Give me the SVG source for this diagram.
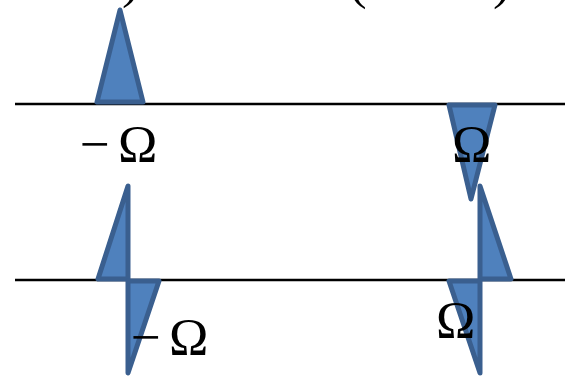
<svg xmlns="http://www.w3.org/2000/svg" width="565" height="377" viewBox="0 0 565 377">
<style>
.ax{stroke:#000;stroke-width:2.5;fill:none}
.tri{fill:#4F81BD;stroke:#3A5F8F;stroke-width:5;stroke-linejoin:round}
.lbl{font-family:"Liberation Serif","Times New Roman",serif;font-size:53px;fill:#000}
</style>
<rect width="565" height="377" fill="#fff"/>
<g id="connectors">
<line class="ax" x1="15" y1="104" x2="565" y2="104"/>
<line class="ax" x1="15" y1="280" x2="565" y2="280"/>
</g>
<g id="top-text">
<text class="lbl" x="122" y="-3">)</text>
<text class="lbl" x="349" y="-2">(</text>
<text class="lbl" x="493" y="-2">)</text>
</g>
<g id="top-left-pulse">
<polygon class="tri" points="120,10 97,102 143,102"/>
</g>
<g id="top-right-pulse">
<polygon class="tri" points="449,105 495,105 471,199"/>
</g>
<g id="bottom-left-pulse">
<polygon class="tri" points="128,186 98,279 128,279"/>
<polygon class="tri" points="128,281 159,281 128,373"/>
</g>
<g id="bottom-right-pulse">
<polygon class="tri" points="480,186 511,279 480,279"/>
<polygon class="tri" points="449,281 480,281 480,373"/>
</g>
<g id="labels">
<text class="lbl" x="80" y="162">−<tspan dx="8">Ω</tspan></text>
<text class="lbl" x="452" y="162">Ω</text>
<text class="lbl" x="131" y="355">−<tspan dx="8">Ω</tspan></text>
<text class="lbl" x="436" y="338">Ω</text>
</g>
</svg>
